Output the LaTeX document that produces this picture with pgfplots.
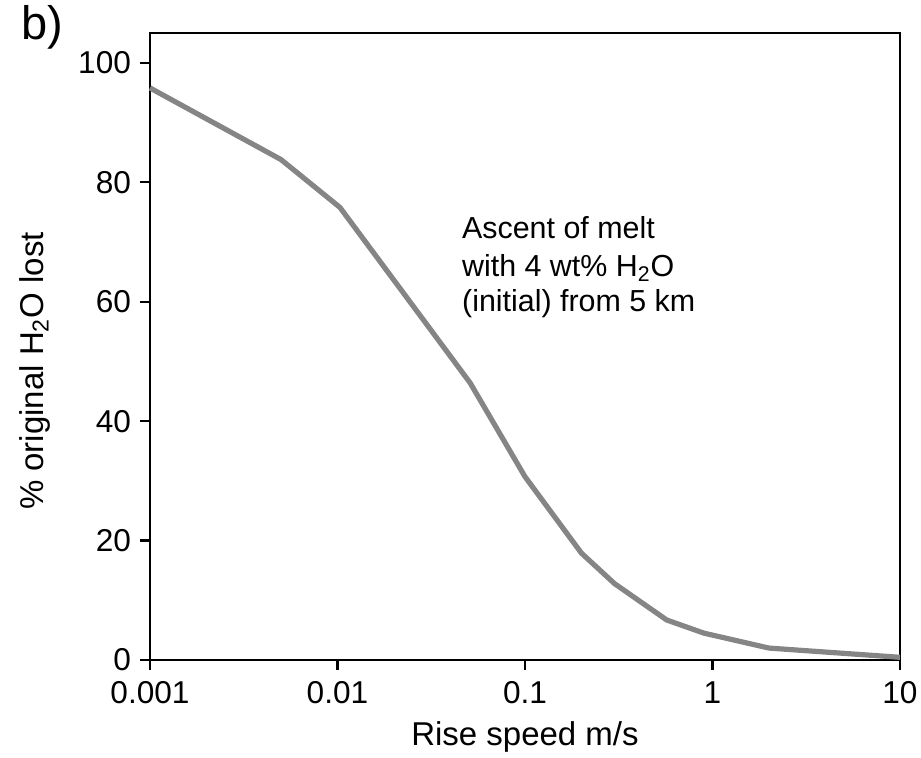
\documentclass[border=0pt]{standalone}
\usepackage{pgfplots}
\pgfplotsset{compat=1.18}
\usepackage{fontspec}
\setmainfont{Liberation Sans}
\definecolor{curvegray}{RGB}{133,133,133}
\begin{document}
\begin{tikzpicture}
\useasboundingbox (-75pt,-48.5pt) rectangle (385.5pt,330pt);
\begin{axis}[
  at={(0,0)}, anchor=south west,
  scale only axis, width=375pt, height=313.5pt,
  xmode=log, xmin=0.001, xmax=10, ymin=0, ymax=105,
  xtick={0.001,0.01,0.1,1,10},
  xticklabels={0.001,0.01,0.1,1,10},
  ytick={0,20,40,60,80,100},
  xminorticks=false,
  tick pos=left, tick align=outside,
  major tick length=5pt,
  every tick/.style={black, line width=1.2pt},
  axis line style={line width=1.3pt},
  /pgf/number format/assume math mode=true,
  ticklabel style={font=\fontsize{15.8}{18}\selectfont},
  xticklabel style={yshift=-2pt, text height=11.4pt, text depth=0pt},
  yticklabel style={xshift=-1pt},
  xlabel={Rise speed m/s},
  ylabel={\% original H\textsubscript{2}O lost},
  label style={font=\fontsize{16.5}{19}\selectfont},
  xlabel style={at={(axis description cs:0.5,-0.1356)}, anchor=base},
  ylabel style={at={(axis description cs:-0.1422,0.461)}, anchor=base, rotate=0},
  clip=false,
]
\addplot[curvegray, line width=2.6pt, line join=round] coordinates {
(0.001,95.8) (0.005,83.8) (0.0103,75.8) (0.051,46.4) (0.1,30.7) (0.2,17.9) (0.3,12.8) (0.57,6.7) (0.9,4.5) (2,2.0) (10,0.45)
};
\node[anchor=base west, font=\fontsize{15.2}{18}\selectfont, inner sep=0pt] at (axis cs:0.046,70.6) {Ascent of melt};
\node[anchor=base west, font=\fontsize{15.2}{18}\selectfont, inner sep=0pt] at (axis cs:0.046,64.2) {with 4 wt\% H\textsubscript{2}O};
\node[anchor=base west, font=\fontsize{15.2}{18}\selectfont, inner sep=0pt] at (axis cs:0.046,58.3) {(initial) from 5 km};
\node[anchor=base west, font=\fontsize{23.5}{26}\selectfont, inner sep=0pt] at (axis description cs:-0.1724,0.99) {b)};
\end{axis}
\end{tikzpicture}
\end{document}
